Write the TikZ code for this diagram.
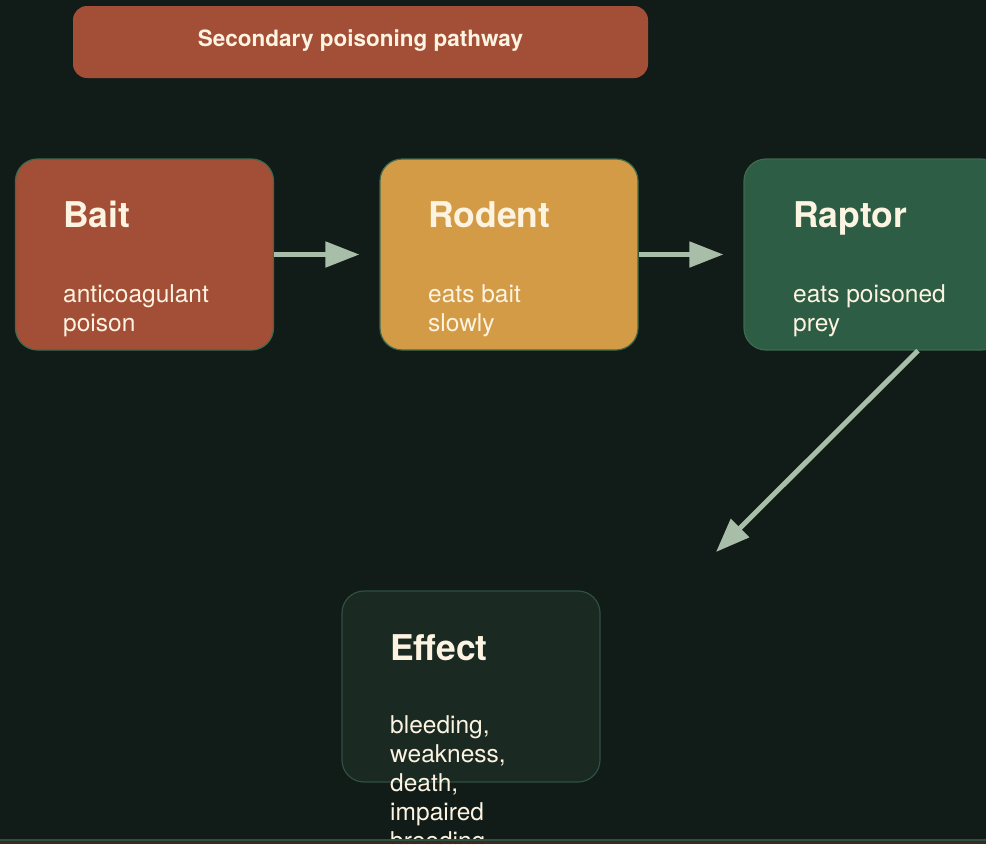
\documentclass[tikz,border=0pt]{standalone}
\usepackage{fontspec}
\setmainfont{TeX Gyre Heros}
\usetikzlibrary{arrows.meta}
\definecolor{bg}{HTML}{111C18}
\definecolor{baitc}{HTML}{A34F37}
\definecolor{rodentc}{HTML}{D39B46}
\definecolor{raptorc}{HTML}{2D5E45}
\definecolor{effectc}{HTML}{1A2922}
\definecolor{edgec}{HTML}{3E6A4E}
\definecolor{txt}{HTML}{FDF3E1}
\definecolor{arrc}{HTML}{A8BEA9}
\definecolor{stripg}{HTML}{2F5040}
\definecolor{stripb}{HTML}{3A2A24}
\tikzset{
  x=1pt, y=1pt,
  box/.style={draw=edgec, line width=1.2pt, rounded corners=22pt, minimum width=258pt, minimum height=191pt, inner sep=0pt},
  boxtitle/.style={anchor=base west, inner sep=0pt, text=txt, font=\bfseries\fontsize{35.5}{40}\selectfont},
  boxtext/.style={anchor=base west, inner sep=0pt, text=txt, align=left, font=\fontsize{24.5}{29}\selectfont},
  arr/.style={draw=arrc, line width=5pt, -{Triangle[length=34pt,width=25pt]}},
}
\begin{document}
\begin{tikzpicture}
\useasboundingbox (0,0) rectangle (986,-844);
\clip (0,0) rectangle (986,-844);
\fill[bg] (0,0) rectangle (986,-844);
% title
\node[fill=baitc, rounded corners=14pt, minimum width=575pt, minimum height=72pt, inner sep=0pt] (title) at (360.5,-42) {};
\node[text=txt, font=\bfseries\fontsize{22.5}{26}\selectfont, anchor=base] (titletext) at (360.5,-46) {Secondary poisoning pathway};
% boxes
\node[box, fill=baitc] (bait) at (144.5,-254.5) {};
\node[box, fill=rodentc] (rodent) at (509,-254.5) {};
\node[box, fill=raptorc, minimum width=259pt] (raptor) at (873.5,-254.5) {};
\node[box, fill=effectc, draw=stripg] (effect) at (471,-686.5) {};
% texts
\node[boxtitle] (baitT) at (63,-227) {Bait};
\node[boxtext] (baitX) at (63,-302) {anticoagulant};
\node[boxtext] (baitX2) at (63,-331) {poison};
\node[boxtitle] (rodentT) at (428,-227) {Rodent};
\node[boxtext] (rodentX) at (428,-302) {eats bait};
\node[boxtext] (rodentX2) at (428,-331) {slowly};
\node[boxtitle] (raptorT) at (793,-227) {Raptor};
\node[boxtext] (raptorX) at (793,-302) {eats poisoned};
\node[boxtext] (raptorX2) at (793,-331) {prey};
\node[boxtitle] (effectT) at (390,-660) {Effect};
\node[boxtext] (effectX1) at (390,-733) {bleeding,};
\node[boxtext] (effectX2) at (390,-762) {weakness,};
\node[boxtext] (effectX3) at (390,-791) {death,};
\node[boxtext] (effectX4) at (390,-820) {impaired};
\node[boxtext] (effectX5) at (390,-849) {breeding};
% connectors
\draw[arr, shorten >=20pt] (bait.east) -- (rodent.west);
\draw[arr, shorten >=20pt] (rodent.east) -- (raptor.west);
\coordinate (rapout) at ([xshift=44.5pt]raptor.south);
\coordinate (effin) at (716,-552);
\draw[arr] (rapout) -- (effin);
% bottom strip
\fill[stripg] (0,-838.5) rectangle (986,-841);
\fill[stripb] (0,-841) rectangle (986,-844);
\end{tikzpicture}
\end{document}
